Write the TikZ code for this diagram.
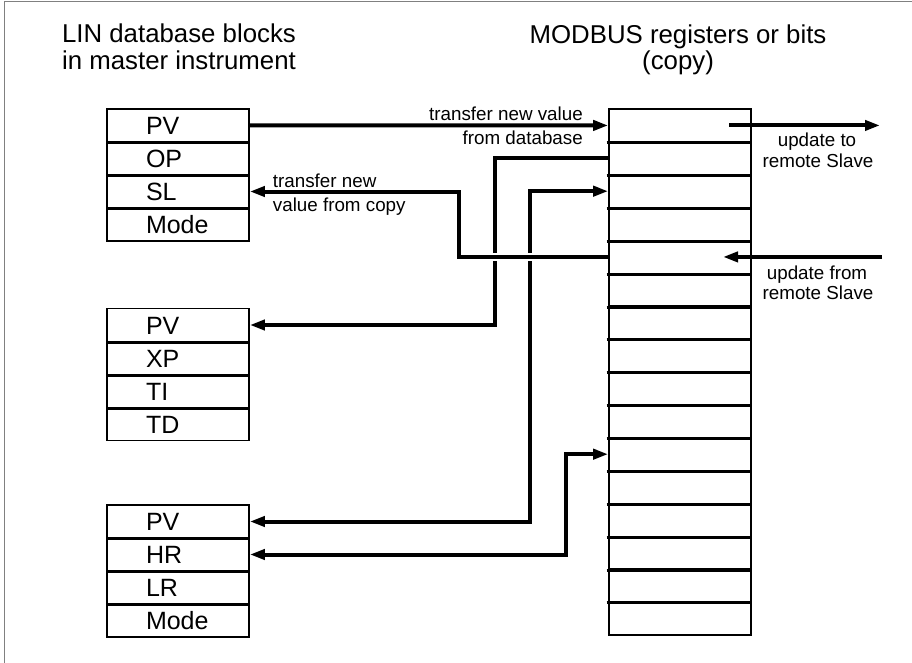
\documentclass[tikz,border=0pt]{standalone}
\usepackage{fontspec}
\setmainfont{Liberation Sans}
\usetikzlibrary{arrows.meta,calc}
\begin{document}
\begin{tikzpicture}[x=1pt,y=-1pt,
  cell/.style={draw, line width=1.6pt, minimum width=142pt, minimum height=33pt,
    inner ysep=0pt, inner xsep=39pt, text width=64pt, align=left,
    text height=18pt, text depth=0pt, font=\fontsize{25}{25}\selectfont},
  reg/.style={draw, line width=1.6pt, minimum width=142pt, minimum height=32.875pt, inner sep=0pt},
  sepline/.style={line width=3pt},
  conn/.style={line width=4pt, -{Triangle[length=15pt,width=10pt]}},
  conntwo/.style={line width=4pt, {Triangle[length=15pt,width=10pt]}-{Triangle[length=15pt,width=10pt]}},
  lbl/.style={inner sep=0pt, font=\fontsize{18.8}{18.8}\selectfont},
  ttl/.style={inner sep=0pt, font=\fontsize{25.8}{25.8}\selectfont}
]
\useasboundingbox (0,0) rectangle (912,663);
\fill[white] (0,0) rectangle (912,663);
\draw[gray, line width=1.3pt] (4.7,663) -- (4.7,1.5) -- (912,1.5);

% titles
\node[ttl, anchor=base] (h1) at (179,42.7) {LIN database blocks};
\node[ttl, anchor=base] (h2) at (179,69.3) {in master instrument};
\node[ttl, anchor=base] (h3) at (678,43.3) {MODBUS registers or bits};
\node[ttl, anchor=base] (h4) at (678,69.3) {(copy)};

% register column
\foreach \i in {1,...,16}
  \node[reg] (r\i) at (680,{109+32.875*(\i-0.5)}) {};
\foreach \i in {1,...,15}
  \draw[sepline] ($(r\i.south west)+(-1.5,0)$) -- (r\i.south east);

% database blocks
\foreach \t [count=\i] in {PV,OP,SL,Mode}
  \node[cell] (a\i) at (178,{109+33*(\i-0.5)}) {\t};
\foreach \t [count=\i] in {PV,XP,TI,TD}
  \node[cell] (b\i) at (178,{308.5+33*(\i-0.5)}) {\t};
\foreach \t [count=\i] in {PV,HR,LR,Mode}
  \node[cell] (c\i) at (178,{505+33*(\i-0.5)}) {\t};
\foreach \i in {1,2,3}{
  \draw[sepline] (a\i.south west) -- (a\i.south east);
  \draw[sepline] (b\i.south west) -- (b\i.south east);
  \draw[sepline] (c\i.south west) -- (c\i.south east);
}

% routing columns
\coordinate (xB) at (495,0);
\coordinate (xC) at (458.5,0);
\coordinate (xD) at (530,0);
\coordinate (xE) at (566,0);

% connectors
\draw[conn] (a1.east) -- (r1.west);
\draw[conn] (r2.west) -- (r2.west -| xB) |- (b1.east);
\draw[conntwo] (r3.west) -- (r3.west -| xD) |- (c1.east);
\draw[conntwo] (r11.west) -- (r11.west -| xE) |- (c2.east);
\draw[white, line width=8pt] ($(r5.west -| xB)+(-8,0)$) -- ($(r5.west -| xD)+(8,0)$);
\draw[conn] (r5.west) -- (r5.west -| xC) |- (a3.east);

% remote slave arrows
\coordinate (uto0) at ($(r1.center)+(49,0)$);
\coordinate (uto1) at ($(r1.center)+(200,0)$);
\draw[conn] (uto0) -- (uto1);
\coordinate (ufr0) at ($(r5.center)+(202,0)$);
\coordinate (ufr1) at ($(r5.center)+(43,0)$);
\draw[conn] (ufr0) -- (ufr1);

% labels
\node[lbl, anchor=base east] (t1) at (583,120.7) {transfer new value};
\node[lbl, anchor=base east] (t2) at (583,145) {from database};
\node[lbl, anchor=base west] (t3) at (272.7,187.3) {transfer new};
\node[lbl, anchor=base west] (t4) at (272.7,211.7) {value from copy};
\node[lbl, anchor=base] (t5) at (817,146.7) {update to};
\node[lbl, anchor=base] (t6) at (818,167.3) {remote Slave};
\node[lbl, anchor=base] (t7) at (817,279.3) {update from};
\node[lbl, anchor=base] (t8) at (818,299.3) {remote Slave};
\end{tikzpicture}
\end{document}
